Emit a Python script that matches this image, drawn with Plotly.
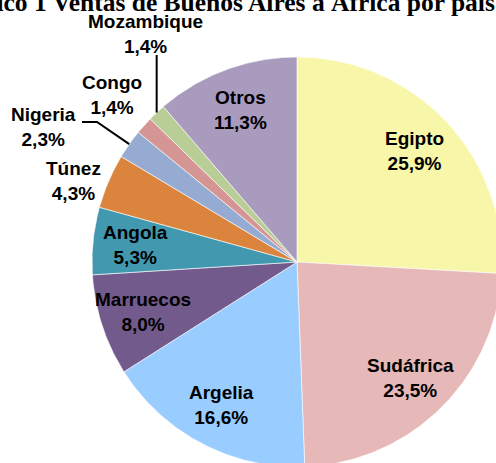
import numpy as np
import plotly.graph_objects as go

# data (clockwise from 12 o'clock)
paises = ["Egipto", "Sudáfrica", "Argelia", "Marruecos", "Angola",
          "Túnez", "Nigeria", "Congo", "Mozambique", "Otros"]
porcentajes = [25.9, 23.5, 16.6, 8.0, 5.3, 4.3, 2.3, 1.4, 1.4, 11.3]
colores = ["#F8F6A8", "#E6B8B7", "#99CCFF", "#735A8D", "#4298AF",
           "#DB843D", "#95ABD1", "#D69595", "#B9CE96", "#A99BBE"]
titulo = "Gráfico 1 Ventas de Buenos Aires a África por país"

# layout in page pixels (axes map 1:1 to the window)
W, H = 496, 463
cx, cy, R = 297, 262, 205

# outside labels: text position in pixels
afuera = {"Túnez": (73, 181), "Nigeria": (43, 127),
          "Congo": (112, 95), "Mozambique": (145, 34)}


def punto(ang, r):
    # angle in degrees, clockwise from top
    a = np.radians(ang)
    return cx + r * np.sin(a), cy - r * np.cos(a)


fig = go.Figure()
total = sum(porcentajes)
inicio = 0.0
medios = []
for nombre, val, col in zip(paises, porcentajes, colores):
    a0 = inicio * 360 / total
    a1 = (inicio + val) * 360 / total
    angs = np.linspace(a0, a1, max(int((a1 - a0) * 2), 4))
    xs, ys = punto(angs, R)
    xs = np.concatenate([[cx], xs, [cx]])
    ys = np.concatenate([[cy], ys, [cy]])
    fig.add_trace(go.Scatter(x=xs, y=ys, mode="lines", fill="toself",
                             fillcolor=col, line=dict(color="white", width=0.6),
                             hoverinfo="skip", showlegend=False))
    medios.append((a0 + a1) / 2)
    inicio += val

fuente = dict(family="Liberation Sans, Arial", size=19, color="black")
for nombre, val, m in zip(paises, porcentajes, medios):
    texto = f"<b>{nombre}<br>{val:.1f}%</b>".replace(".", ",")
    if nombre in afuera:
        x, y = afuera[nombre]
    else:
        x, y = punto(m, 0.79 * R)
    fig.add_annotation(x=x, y=y, text=texto, showarrow=False, font=fuente,
                       xanchor="center", yanchor="middle")

# leader lines
i_moz = paises.index("Mozambique")
ex, ey = punto(medios[i_moz], R)
fig.add_trace(go.Scatter(x=[ex, ex], y=[55, ey], mode="lines",
                         line=dict(color="black", width=2),
                         hoverinfo="skip", showlegend=False))
i_nig = paises.index("Nigeria")
ex, ey = punto(medios[i_nig], R)
fig.add_trace(go.Scatter(x=[82, 97, ex], y=[122, 122, ey], mode="lines",
                         line=dict(color="black", width=2),
                         hoverinfo="skip", showlegend=False))

# title, cut by the top and left edges like in the original
fig.add_annotation(xref="paper", yref="paper", x=1.0, y=1 - 19 / H,
                   xshift=1, text=f"<b>{titulo}</b>", showarrow=False,
                   xanchor="right", yanchor="bottom",
                   font=dict(family="Liberation Serif, Times New Roman",
                             size=25.5, color="black"))

fig.update_xaxes(range=[0, W], visible=False, fixedrange=True)
fig.update_yaxes(range=[H, 0], visible=False, fixedrange=True)
fig.update_layout(width=W, height=H, margin=dict(l=0, r=0, t=0, b=0),
                  plot_bgcolor="white", paper_bgcolor="white")

fig.write_html("out.html", config={"displayModeBar": False},
               post_script="document.body.style.margin = '0px';")
